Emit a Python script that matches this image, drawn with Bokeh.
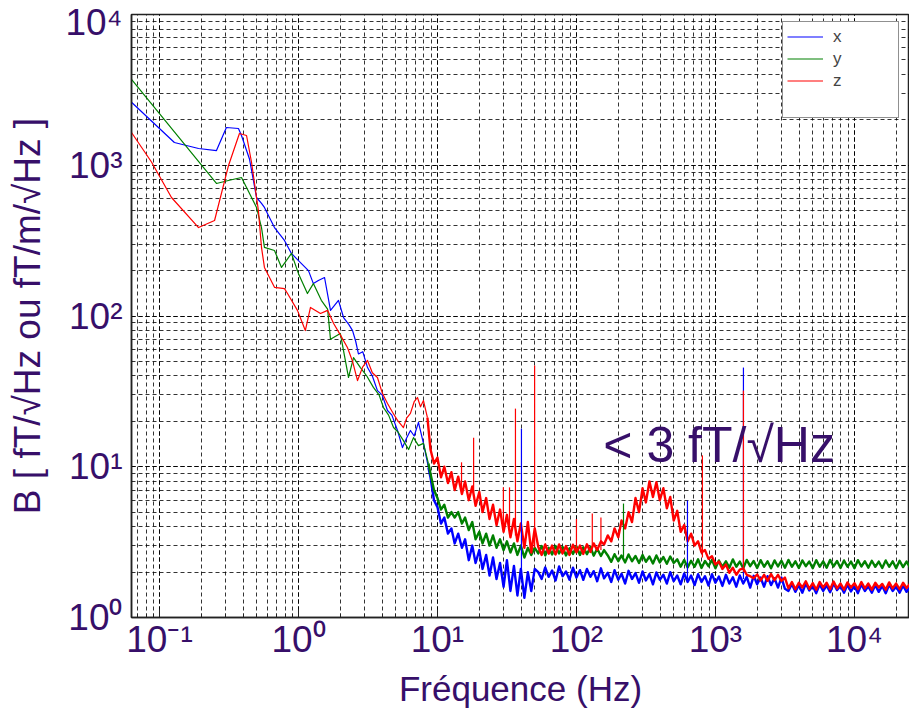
from bokeh.plotting import figure
from bokeh.models import Legend, LegendItem, Label, LogTicker, FixedTicker
from bokeh.embed import file_html
from bokeh.resources import INLINE

# ---------------- data ----------------
SERIES_NAMES = ["x", "y", "z"]

# low-frequency part (Hz, fT/sqrt(Hz))
X_LOW_F = [0.0629, 0.128, 0.191, 0.257, 0.303, 0.370, 0.389, 0.444, 0.499, 0.542,
           0.569, 0.672, 0.793, 0.890, 1.00, 1.18, 1.28, 1.39, 1.54, 1.70,
           1.94, 2.11, 2.30, 2.45, 2.58, 2.70, 2.90, 3.14, 3.40, 3.70,
           4.00, 4.37, 4.70, 5.16, 5.60, 6.00, 6.39, 6.80, 7.30, 7.93, 8.61]
X_LOW_B = [2620, 1416, 1291, 1252, 1780, 1753, 1575, 1100, 611, 558,
           525, 386, 317, 260, 233, 200, 164, 172, 180, 109,
           127, 97.7, 88, 80, 68, 56, 58, 45.5, 40, 32,
           30, 23.6, 22, 17.4, 13.4, 15.5, 17.4, 16, 19.7, 14.3, 9.9]

Y_LOW_F = [0.0629, 0.257, 0.313, 0.389, 0.423, 0.499, 0.542, 0.569, 0.672, 0.755,
           0.890, 1.00, 1.16, 1.28, 1.46, 1.62, 1.70, 2.00, 2.29, 2.49,
           2.79, 3.10, 3.46, 3.80, 4.09, 4.45, 4.83, 5.20, 5.69, 6.20,
           6.72, 7.30, 7.93, 8.61]
Y_LOW_B = [3706, 757, 792, 829, 712, 525, 386, 285, 272, 210,
           260, 191, 141, 164, 127, 111, 70, 76.6, 39.1, 53.0,
           45.5, 40, 33.6, 30, 24.7, 22, 18.2, 17, 14.9, 13,
           15.6, 13.8, 14.3, 10.5]

Z_LOW_F = [0.0629, 0.0876, 0.122, 0.191, 0.249, 0.313, 0.376, 0.423, 0.459, 0.515,
           0.542, 0.569, 0.672, 0.793, 0.834, 0.983, 1.12, 1.22, 1.44, 1.62,
           1.79, 2.00, 2.25, 2.45, 2.66, 2.90, 3.14, 3.40, 3.70, 4.00,
           4.37, 4.75, 5.16, 5.69, 6.00, 6.39, 6.80, 7.18, 7.55, 7.93, 8.47]
Z_LOW_B = [1649, 1051, 611, 386, 430, 988, 1624, 1575, 1051, 501,
           285, 210, 155, 152, 141, 109, 80.1, 114, 104, 109,
           89.2, 75, 61.8, 50, 37.3, 46, 50.7, 42, 39.1, 31,
           26.3, 23, 20.3, 18.2, 21, 22.6, 27, 28.8, 25, 27.5, 21.2]

# noisy part: shared frequency bins (Hz)
FREQ_NOISE = [8.91, 9.44,
              10.0, 10.6, 11.2, 11.9, 12.6, 13.3, 14.1, 15.0, 15.8, 16.8,
              17.8, 18.8, 20.0, 21.1, 22.4, 23.7, 25.1, 26.6, 28.2, 29.9,
              31.6, 33.5, 35.5, 37.6, 39.8, 42.2, 44.7, 47.3, 50.1, 53.1,
              56.2, 59.6, 63.1, 66.8, 70.8, 75.0, 79.4, 84.1, 89.1, 94.4,
              100, 106, 112, 119, 126, 133, 141, 150, 158, 168,
              178, 188, 200, 211, 224, 237, 251, 266, 282, 299,
              316, 335, 355, 376, 398, 422, 447, 473, 501, 531,
              562, 596, 631, 668, 708, 750, 794, 841, 891, 944,
              1000, 1059, 1122, 1189, 1259, 1334, 1413, 1496, 1585, 1679,
              1778, 1884, 1995, 2113, 2239, 2371, 2512, 2661, 2818, 2985,
              3162, 3350, 3548, 3758, 3981, 4217, 4467, 4732, 5012, 5309,
              5623, 5957, 6310, 6683, 7079, 7499, 7943, 8414, 8913, 9441,
              10000, 10590, 11220, 11890, 12590, 13340, 14130, 14960, 15850, 16790,
              17780, 18840, 19950, 21130, 22390, 23710, 25120]

X_NOISE = [8.5, 6.0, 5.4, 4.2, 4.6, 3.6, 3.9, 3.1, 3.6, 2.9,
           3.3, 2.4, 3.0, 2.3, 2.8, 2.1, 2.6, 1.9, 2.5, 1.8,
           2.3, 1.6, 2.4, 1.5, 2.2, 1.4, 2.1, 1.35, 2.0, 1.5,
           2.1, 2.0, 1.8, 2.15, 1.86, 2.05, 1.76, 2.18, 1.88, 2.02,
           1.78, 2.14, 1.84, 2.06, 1.78, 2.1, 1.86, 2.03, 1.74, 2.12,
           1.82, 1.98, 1.72, 2.06, 1.78, 1.95, 1.68, 2.04, 1.8, 1.97,
           1.7, 2.02, 1.76, 1.94, 1.66, 1.99, 1.78, 1.92, 1.68, 2.0,
           1.74, 1.9, 1.66, 1.96, 1.72, 1.9, 1.64, 1.94, 1.72, 1.88,
           1.63, 1.94, 1.7, 1.87, 1.62, 1.92, 1.68, 1.85, 1.6, 1.9,
           1.68, 1.86, 1.58, 1.89, 1.66, 1.84, 1.6, 1.88, 1.64, 1.82,
           1.58, 1.84, 1.55, 1.5, 1.67, 1.48, 1.64, 1.46, 1.68, 1.51,
           1.62, 1.45, 1.66, 1.5, 1.63, 1.47, 1.68, 1.52, 1.62, 1.46,
           1.65, 1.49, 1.62, 1.45, 1.66, 1.5, 1.61, 1.46, 1.64, 1.48,
           1.62, 1.45, 1.65, 1.5, 1.6, 1.46, 1.63, 1.48, 1.6]

Y_NOISE = [9.0, 7.0, 6.2, 5.2, 5.6, 4.6, 5.0, 4.6, 5.0, 4.2,
           4.6, 3.8, 4.3, 3.3, 3.7, 3.1, 3.6, 3.0, 3.5, 2.9,
           3.3, 2.8, 3.2, 2.7, 3.1, 2.6, 3.0, 2.5, 2.9, 2.6,
           2.9, 2.66, 2.98, 2.58, 2.9, 2.62, 2.98, 2.66, 2.94, 2.58,
           2.88, 2.64, 2.96, 2.6, 2.92, 2.63, 2.94, 2.57, 2.86, 2.56,
           2.8, 2.58, 2.34, 2.63, 2.36, 2.58, 2.32, 2.62, 2.36, 2.56,
           2.3, 2.6, 2.34, 2.54, 2.28, 2.58, 2.32, 2.52, 2.27, 2.54,
           2.3, 2.43, 2.17, 2.41, 2.15, 2.38, 2.17, 2.43, 2.13, 2.37,
           2.19, 2.41, 2.12, 2.39, 2.17, 2.36, 2.14, 2.43, 2.17, 2.35,
           2.12, 2.41, 2.19, 2.37, 2.13, 2.4, 2.17, 2.36, 2.12, 2.39,
           2.18, 2.38, 2.14, 2.41, 2.17, 2.36, 2.13, 2.39, 2.19, 2.35,
           2.12, 2.4, 2.17, 2.36, 2.14, 2.41, 2.18, 2.37, 2.13, 2.39,
           2.17, 2.35, 2.12, 2.4, 2.18, 2.36, 2.14, 2.38, 2.17, 2.35,
           2.13, 2.39, 2.17, 2.36, 2.12, 2.38, 2.16, 2.35, 2.15]

Z_NOISE = [13.0, 10.5, 11.5, 8.5, 10.0, 7.8, 9.2, 7.0, 8.6, 6.6,
           8.0, 6.0, 7.4, 5.5, 6.8, 5.0, 6.2, 4.5, 5.6, 4.1,
           5.2, 3.7, 4.8, 3.4, 4.5, 3.2, 4.2, 2.9, 4.3, 2.7,
           3.9, 2.95, 2.6, 3.05, 2.65, 3.0, 2.62, 3.05, 2.66, 2.98,
           2.6, 3.04, 2.7, 3.0, 2.64, 3.06, 2.72, 3.1, 2.8, 3.2,
           3.05, 3.5, 3.2, 3.9, 3.4, 4.4, 3.9, 5.0, 4.3, 6.2,
           5.0, 7.2, 5.8, 8.0, 6.3, 7.9, 6.0, 7.2, 5.3, 6.3,
           4.4, 5.1, 3.7, 4.1, 3.2, 3.6, 3.0, 3.2, 2.7, 2.8,
           2.45, 2.55, 2.25, 2.35, 2.1, 2.25, 1.98, 2.14, 1.92, 2.08,
           2.12, 1.92, 1.88, 1.82, 1.93, 1.76, 1.92, 1.75, 1.94, 1.77,
           1.92, 1.75, 1.84, 1.56, 1.72, 1.54, 1.7, 1.58, 1.74, 1.55,
           1.69, 1.53, 1.72, 1.58, 1.7, 1.54, 1.73, 1.56, 1.68, 1.53,
           1.71, 1.58, 1.69, 1.54, 1.72, 1.56, 1.68, 1.53, 1.7, 1.58,
           1.67, 1.53, 1.71, 1.56, 1.68, 1.54, 1.7, 1.57, 1.67]

# narrow spectral lines (Hz, base, top)
X_SPIKE_F = [40.2, 629, 1590]
X_SPIKE_BASE = [1.8, 1.8, 1.8]
X_SPIKE_TOP = [17.9, 5.97, 45.5]

Y_SPIKE_F = [218]
Y_SPIKE_BASE = [2.5]
Y_SPIKE_TOP = [5.7]

Z_SPIKE_F = [14.9, 18.2, 29.8, 33.0, 36.4, 50.0, 100, 130, 150, 806, 1590]
Z_SPIKE_BASE = [6.6, 6.8, 4.0, 3.6, 3.5, 2.9, 2.8, 2.9, 2.8, 2.5, 2.0]
Z_SPIKE_TOP = [10.7, 15.6, 7.3, 7.3, 24.3, 47, 4.5, 4.9, 4.6, 11.9, 32]

ANNOTATION = "< 3 fT/√Hz"
ANNOT_F, ANNOT_B = 156, 14.0

X_RANGE = (0.0629, 24900)
Y_RANGE = (1, 10000)

X_TICK_LABELS = {0.1: "10⁻¹", 1: "10⁰", 10: "10¹", 100: "10²", 1000: "10³", 10000: "10⁴"}
# the top label sits a little under the frame's top edge, as in the reference
Y_TICKS = [1, 10, 100, 1000, 8850]
Y_TICK_LABELS = {1: "10⁰", 10: "10¹", 100: "10²", 1000: "10³", 8850: "10⁴"}

# ---------------- styling ----------------
TEXT = "#370f69"
FONT = "Liberation Sans"
BLUE, GREEN, RED = "#0000ff", "#008000", "#ff0000"

p = figure(width=909, height=711, x_axis_type="log", y_axis_type="log",
           x_range=X_RANGE, y_range=Y_RANGE,
           output_backend="svg", toolbar_location=None,
           min_border_left=131, min_border_right=0,
           min_border_top=14, min_border_bottom=94)
p.outline_line_color = "#222222"
p.outline_line_width = 1.5
p.background_fill_color = "white"
p.border_fill_color = "white"

p.xaxis.axis_label = "Fréquence (Hz)"
p.yaxis.axis_label = "B [ fT/√Hz ou fT/m/√Hz ]"
p.xaxis.ticker = LogTicker(num_minor_ticks=10)
p.yaxis.ticker = FixedTicker(ticks=Y_TICKS)
p.xaxis.major_label_overrides = X_TICK_LABELS
p.yaxis.major_label_overrides = Y_TICK_LABELS
for ax in (p.xaxis[0], p.yaxis[0]):
    ax.axis_label_text_font = FONT
    ax.axis_label_text_font_style = "normal"
    ax.axis_label_text_color = TEXT
    ax.major_label_text_font = FONT
    ax.major_label_text_color = TEXT
    ax.major_label_text_font_size = "37px"
    ax.axis_line_color = "#222222"
    ax.axis_line_width = 1.5
    ax.major_tick_out = 0
    ax.minor_tick_in = 4
    ax.minor_tick_out = 0
    ax.major_tick_line_color = "#222222"
    ax.minor_tick_line_color = "#222222"
p.xaxis.major_tick_in = 8
p.yaxis.major_tick_in = 0
p.xaxis.axis_label_text_font_size = "35px"
p.yaxis.axis_label_text_font_size = "37px"
p.xaxis.major_label_standoff = 1
p.yaxis.major_label_standoff = 9
p.xaxis.axis_label_standoff = 6
p.yaxis.axis_label_standoff = 14

p.xgrid[0].ticker = LogTicker(num_minor_ticks=10)
p.ygrid[0].ticker = LogTicker(num_minor_ticks=10)
for g in (p.xgrid[0], p.ygrid[0]):
    g.grid_line_color = "black"
    g.grid_line_dash = "4 3"
    g.grid_line_alpha = 0.8
    g.minor_grid_line_color = "black"
    g.minor_grid_line_dash = "4 3"
    g.minor_grid_line_alpha = 0.8

# smooth low-frequency part (thin) and noisy part (thicker, joined to it)
rx = p.line(X_LOW_F, X_LOW_B, line_color=BLUE, line_width=1.2, line_join="round")
p.line(X_LOW_F[-1:] + FREQ_NOISE, X_LOW_B[-1:] + X_NOISE, line_color=BLUE,
       line_width=2.4, line_join="round")
ry = p.line(Y_LOW_F, Y_LOW_B, line_color=GREEN, line_width=1.2, line_join="round")
p.line(Y_LOW_F[-1:] + FREQ_NOISE, Y_LOW_B[-1:] + Y_NOISE, line_color=GREEN,
       line_width=2.4, line_join="round")
rz = p.line(Z_LOW_F, Z_LOW_B, line_color=RED, line_width=1.2, line_join="round")
p.line(Z_LOW_F[-1:] + FREQ_NOISE, Z_LOW_B[-1:] + Z_NOISE, line_color=RED,
       line_width=2.4, line_join="round")
p.segment(X_SPIKE_F, X_SPIKE_BASE, X_SPIKE_F, X_SPIKE_TOP, line_color=BLUE, line_width=1.2)
p.segment(Y_SPIKE_F, Y_SPIKE_BASE, Y_SPIKE_F, Y_SPIKE_TOP, line_color=GREEN, line_width=1.2)
p.segment(Z_SPIKE_F, Z_SPIKE_BASE, Z_SPIKE_F, Z_SPIKE_TOP, line_color=RED, line_width=1.2)

blank = p.line(FREQ_NOISE, X_NOISE, line_alpha=0)

legend = Legend(items=[LegendItem(label=SERIES_NAMES[0], renderers=[rx]),
                       LegendItem(label=SERIES_NAMES[1], renderers=[ry]),
                       LegendItem(label=SERIES_NAMES[2], renderers=[rz]),
                       LegendItem(label="\u00a0" * 13, renderers=[blank])],
                location=(651, 499))
legend.label_text_font = FONT
legend.label_text_font_size = "17px"
legend.label_text_color = "#444444"
legend.glyph_width = 36
legend.glyph_height = 21
legend.label_height = 21
legend.label_standoff = 10
legend.spacing = 1
legend.padding = 4
legend.margin = 0
legend.border_line_color = "#222222"
legend.border_line_width = 1
legend.background_fill_alpha = 1
p.add_layout(legend)

p.add_layout(Label(x=ANNOT_F, y=ANNOT_B, text=ANNOTATION, text_font=FONT,
                   text_font_size="50px", text_color=TEXT,
                   text_align="left", text_baseline="alphabetic"))

open("out.html", "w").write(file_html(p, INLINE))
